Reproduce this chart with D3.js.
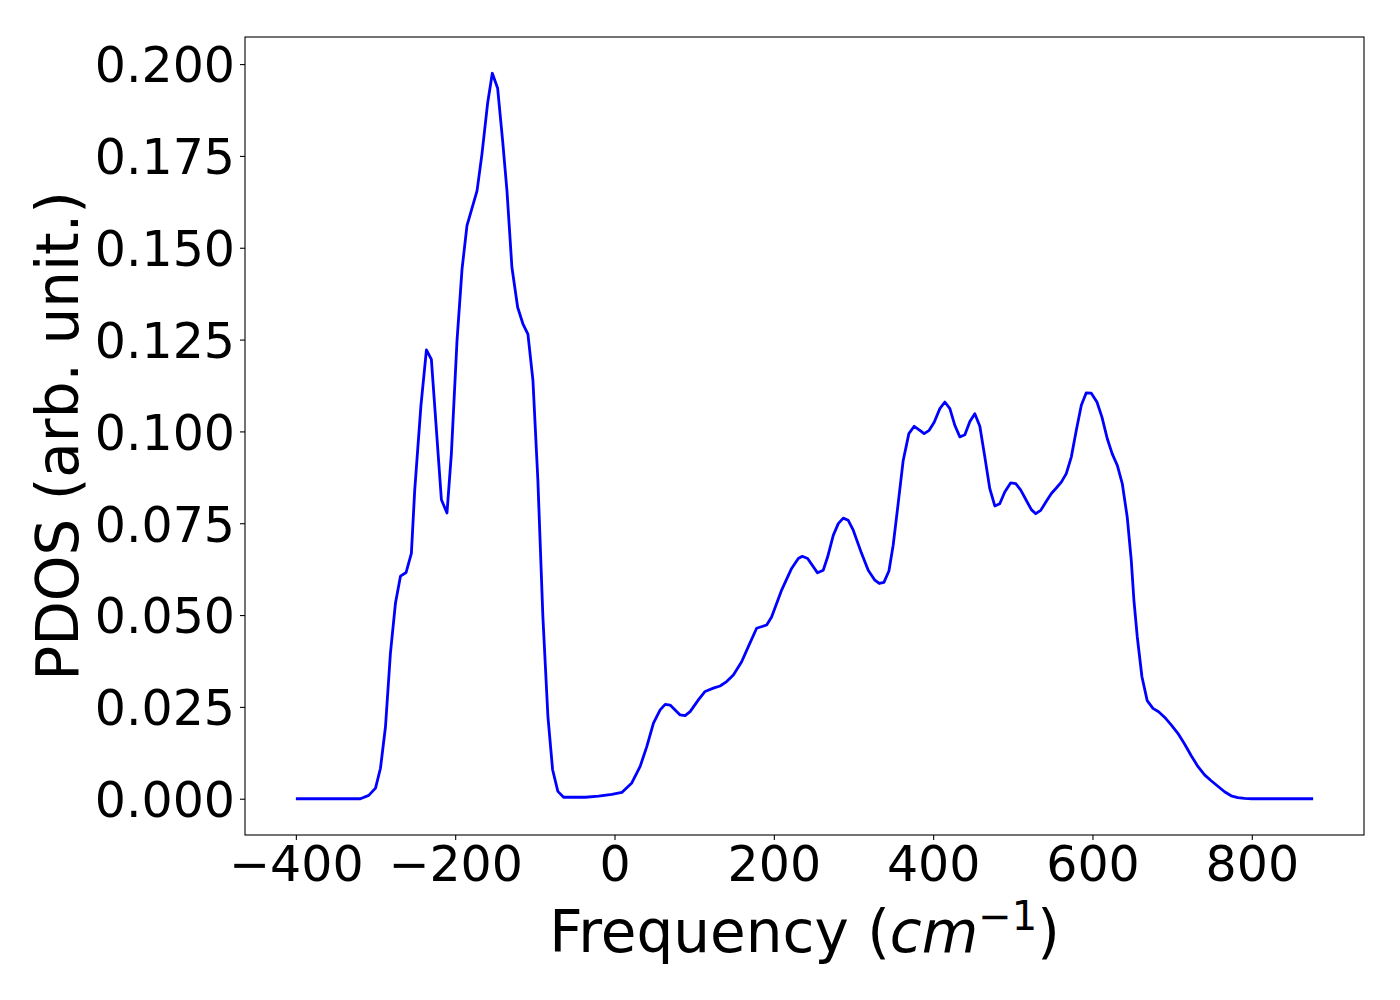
<!DOCTYPE html>
<html>
<head>
<meta charset="utf-8">
<script src="https://cdn.jsdelivr.net/npm/d3@7"></script>
<style>
  body { margin: 0; background: #fff; }
  text { font-family: "DejaVu Sans", sans-serif; fill: #000; }
</style>
</head>
<body>
<div id="chart"></div>
<script>
// frequency (cm^-1) and PDOS values
const freq = [
  -400, -319, -308.5, -300, -293.8, -287.5, -281.3, -275, -268.7, -261.6,
  -255, -250.8, -243, -236.1, -229.9, -217.3, -210.3, -204.8, -197.7, -191.4,
  -185.2, -172.6, -166.4, -159.2, -153.4, -146.7, -140.4, -135, -128.8, -121.6,
  -115, -108.7, -102.4, -96.2, -89.9, -83.6, -77.7, -71.1, -63.9, -36.7,
  -20, -3.3, 9.2, 21.7, 32.2, 40.5, 48.9, 57.3, 63.6, 69.8,
  82.4, 88.6, 94.9, 105.3, 113.7, 124.1, 132.5, 140.8, 149.2, 159.6,
  168, 178.4, 191, 197.2, 209.8, 222.3, 230.7, 235.7, 242.4, 254.9,
  262, 267.5, 274.6, 280.9, 287.1, 293.4, 299.7, 310.1, 318.5, 326.8,
  332.3, 338.2, 344.5, 349.8, 356.1, 362.4, 369.5, 376.2, 383.3, 388.7,
  395, 401.3, 408.4, 414.7, 421, 427.3, 433.5, 439.8, 446.1, 452.3,
  458.6, 464.9, 471.1, 477.4, 483.6, 489.9, 497.4, 503.7, 510, 517,
  523.3, 528.8, 535, 542.1, 548.4, 554.6, 560.9, 567.1, 573.4, 579.7,
  586, 592.2, 598.5, 605.6, 611.9, 618.6, 624.8, 631.1, 637.4, 643.6,
  648.7, 652, 656.2, 662.1, 668.7, 675.9, 683, 690.5, 698.8, 707.2,
  715.6, 724, 732.3, 740.7, 749, 757.4, 765.8, 774.1, 782.4, 790.8,
  800, 877
];
const pdos = [
  0, 0, 0.0009, 0.0029, 0.0083, 0.0196, 0.0396, 0.0532, 0.0606, 0.0616,
  0.0668, 0.084, 0.107, 0.1222, 0.1196, 0.0814, 0.0778, 0.0939, 0.1247, 0.1442,
  0.156, 0.1655, 0.1755, 0.1895, 0.1975, 0.1934, 0.179, 0.1655, 0.1447, 0.1338,
  0.1293, 0.1265, 0.1139, 0.0867, 0.0495, 0.0224, 0.0079, 0.002, 0.0004, 0.0004,
  0.0007, 0.0012, 0.0017, 0.0043, 0.0088, 0.0142, 0.0206, 0.0242, 0.0257, 0.0255,
  0.0228, 0.0226, 0.0237, 0.0269, 0.0292, 0.0301, 0.0307, 0.0319, 0.0337, 0.0373,
  0.0414, 0.0464, 0.0473, 0.0495, 0.0568, 0.0627, 0.0654, 0.066, 0.0654, 0.0615,
  0.0622, 0.0658, 0.0717, 0.0749, 0.0764, 0.0758, 0.0731, 0.0668, 0.0622, 0.0595,
  0.0586, 0.0589, 0.062, 0.069, 0.0804, 0.0921, 0.0994, 0.1014, 0.1003, 0.0994,
  0.1003, 0.1025, 0.1062, 0.108, 0.1062, 0.1016, 0.0985, 0.0991, 0.1027, 0.1048,
  0.1014, 0.093, 0.0844, 0.0797, 0.0803, 0.0835, 0.086, 0.0858, 0.084, 0.0812,
  0.0787, 0.0776, 0.0785, 0.081, 0.0831, 0.0846, 0.0862, 0.0885, 0.093, 0.1003,
  0.1071, 0.1105, 0.1104, 0.108, 0.1039, 0.098, 0.0939, 0.0908, 0.0858, 0.0767,
  0.0649, 0.0541, 0.0441, 0.0332, 0.0267, 0.0246, 0.0237, 0.0222, 0.0201, 0.0178,
  0.0149, 0.0117, 0.0088, 0.0065, 0.0049, 0.0034, 0.0019, 0.0008, 0.0003, 0.0001,
  0, 0
];
const xTicks = [-400, -200, 0, 200, 400, 600, 800];
const yTicks = [0, 0.025, 0.05, 0.075, 0.1, 0.125, 0.15, 0.175, 0.2];

const config = { width: 1119, height: 798, left: 245, top: 37 };

const svg = d3.select("#chart")
  .append("svg")
  .attr("width", 1400)
  .attr("height", 1000);

const g = svg.append("g")
  .attr("transform", `translate(${config.left},${config.top})`);

// matplotlib style 5% margins around the data
const xMin = d3.min(freq), xMax = d3.max(freq);
const yMax = d3.max(pdos);
const xPad = (xMax - xMin) * 0.05, yPad = yMax * 0.05;

const xScale = d3.scaleLinear().domain([xMin - xPad, xMax + xPad]).range([0, config.width]);
const yScale = d3.scaleLinear().domain([-yPad, yMax + yPad]).range([config.height, 0]);

const xAxis = d3.axisBottom(xScale)
  .tickValues(xTicks)
  .tickSize(5)
  .tickPadding(5)
  .tickFormat(d => d < 0 ? "\u2212" + Math.abs(d) : String(d));

const yAxis = d3.axisLeft(yScale)
  .tickValues(yTicks)
  .tickSize(5)
  .tickPadding(5)
  .tickFormat(d3.format(".3f"));

const gx = g.append("g")
  .attr("transform", `translate(0,${config.height})`)
  .call(xAxis);
gx.select(".domain").remove();
gx.selectAll("line").attr("stroke", "#000").attr("stroke-width", 1.1);
gx.selectAll("text")
  .attr("font-family", "DejaVu Sans")
  .attr("font-size", 49)
  .attr("dy", "0.73em");

const gy = g.append("g").call(yAxis);
gy.select(".domain").remove();
gy.selectAll("line").attr("stroke", "#000").attr("stroke-width", 1.1);
gy.selectAll("text")
  .attr("font-family", "DejaVu Sans")
  .attr("font-size", 49)
  .attr("dy", "0.365em");

const line = d3.line()
  .x(d => xScale(d[0]))
  .y(d => yScale(d[1]));

g.append("path")
  .datum(d3.zip(freq, pdos))
  .attr("fill", "none")
  .attr("stroke", "#0000ff")
  .attr("stroke-width", 2.8)
  .attr("stroke-linejoin", "round")
  .attr("d", line);

// frame
g.append("rect")
  .attr("width", config.width)
  .attr("height", config.height)
  .attr("fill", "none")
  .attr("stroke", "#000")
  .attr("stroke-width", 1.1);

// x label
const xl = svg.append("text")
  .attr("x", config.left + config.width / 2)
  .attr("y", 952)
  .attr("text-anchor", "middle")
  .attr("font-size", 58);
xl.append("tspan").text("Frequency (");
xl.append("tspan").attr("font-style", "italic").text("cm");
xl.append("tspan").attr("font-size", 40).attr("dy", -22).text("\u22121");
xl.append("tspan").attr("dy", 22).text(")");

// y label
svg.append("text")
  .attr("transform", `translate(78,${config.top + config.height / 2}) rotate(-90)`)
  .attr("text-anchor", "middle")
  .attr("font-size", 58)
  .text("PDOS (arb. unit.)");
</script>
</body>
</html>
